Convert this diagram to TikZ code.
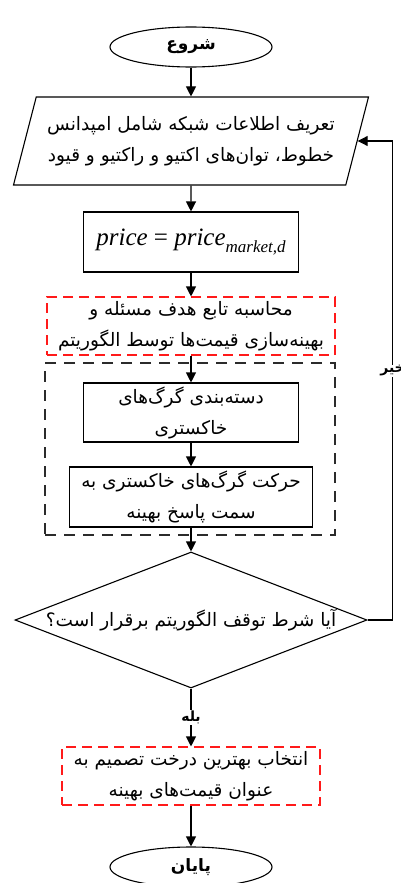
\documentclass[tikz,border=0pt]{standalone}
\usepackage{fontspec}
\usetikzlibrary{arrows.meta,positioning,shapes.geometric,calc}
\TeXXeTstate=1
\newfontfamily\fafont[Script=Arabic]{DejaVu Sans}
\newfontfamily\enfont{Liberation Serif}
\newcommand{\rtltxt}[1]{\beginR#1\endR}
\definecolor{cred}{HTML}{FF1A1A}
\definecolor{cgrp}{HTML}{2B2B2B}
\tikzset{
  base/.style={draw, line width=1.1pt, fill=white, inner sep=2pt, align=center,
    font=\fafont\fontsize{18.5}{31}\selectfont},
  proc/.style={base, rectangle},
  term/.style={base, ellipse, minimum width=162, minimum height=40,
    font=\fafont\bfseries\fontsize{17}{18}\selectfont},
  io/.style={base, trapezium, trapezium left angle=67, trapezium right angle=113,
    trapezium stretches body, minimum width=355, minimum height=88},
  cond/.style={base, diamond, aspect=2.6, minimum width=352, minimum height=136, inner sep=0pt},
  redbox/.style={base, rectangle, draw=cred, dash pattern=on 10pt off 6pt},
  grp/.style={draw=cgrp, line width=1.1pt, dash pattern=on 11pt off 8pt,
    minimum width=290, minimum height=172},
  pre/.style={-{Triangle[length=10pt,width=10pt]}, line width=1.1pt},
  lbl/.style={fill=white, inner sep=1pt, font=\fafont\bfseries\fontsize{14}{15}\selectfont},
}
\begin{document}
\begin{tikzpicture}[x=1pt,y=-1pt]
\useasboundingbox (0,0) rectangle (401,883);
% main chain
\node[term] (start) at (191,47) {\rtltxt{شروع}};
\node[io] (data) at (191,141) {\rtltxt{تعریف اطلاعات شبکه شامل امپدانس}\\\rtltxt{خطوط، توان‌های اکتیو و راکتیو و قیود}};
\node[proc, minimum width=215, minimum height=60, font=\enfont\fontsize{25}{27}\selectfont] (price) at (191,242)
  {\itshape price \upshape= \itshape price\raisebox{-0.3em}{\fontsize{17}{17}\selectfont market,d}};
\node[redbox, minimum width=288, minimum height=58] (obj) at (191,326) {\rtltxt{محاسبه تابع هدف مسئله و}\\\rtltxt{بهینه‌سازی قیمت‌ها توسط الگوریتم}};
\node[grp] (gwo) at (190,449) {};
\node[proc, minimum width=215, minimum height=59] (cls) at (191,412.5) {\rtltxt{دسته‌بندی گرگ‌های}\\\rtltxt{خاکستری}};
\node[proc, minimum width=243, minimum height=60] (move) at (191,497) {\rtltxt{حرکت گرگ‌های خاکستری به}\\\rtltxt{سمت پاسخ بهینه}};
\node[cond] (stop) at (191,620) {\rtltxt{آیا شرط توقف الگوریتم برقرار است؟}};
\node[redbox, minimum width=258, minimum height=58] (best) at (191,776) {\rtltxt{انتخاب بهترین درخت تصمیم به}\\\rtltxt{عنوان قیمت‌های بهینه}};
\node[term] (finish) at (191,867) {\rtltxt{پایان}};
% connectors
\draw[pre] (start) -- (data);
\draw[pre] (data) -- (price);
\draw[pre] (price) -- (obj);
\draw[pre] (obj) -- (cls);
\draw[pre] (cls) -- (move);
\draw[pre] (move) -- (stop);
\draw[pre] (stop) -- node[lbl] {\rtltxt{بله}} (best);
\draw[pre] (best) -- (finish);
\draw[pre] (stop.east) -- ++(25,0) |- node[lbl, pos=0.26] {\rtltxt{خیر}} (data.east);
\end{tikzpicture}
\end{document}
